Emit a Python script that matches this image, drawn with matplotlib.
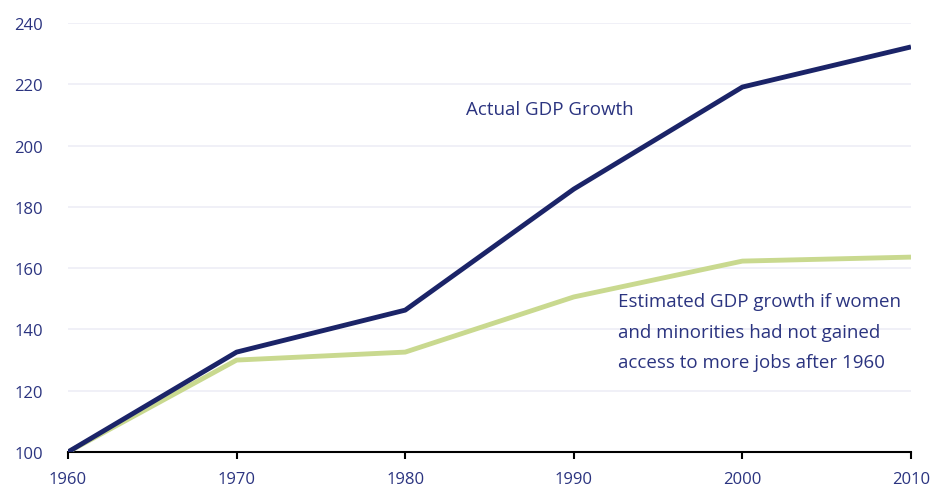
import numpy as np
import matplotlib.pyplot as plt

years = [1960, 1970, 1980, 1990, 2000, 2010]
actual_gdp = [100, 132.6, 146.3, 185.8, 219.1, 232.2]
estimated_gdp = [100, 130.0, 132.6, 150.6, 162.3, 163.6]
yticks = [100, 120, 140, 160, 180, 200, 220, 240]

text_color = '#2b3480'
navy = '#1b2468'
green = '#c9d98f'

plt.rcParams['font.family'] = ['Open Sans', 'DejaVu Sans']

fig = plt.figure(figsize=(9.49, 4.89), dpi=100)
ax = fig.add_axes([68/949, 1 - 453/489, 843/949, 429/489])

ax.plot(years, estimated_gdp, color=green, lw=3.5, solid_capstyle='butt', zorder=3)
ax.plot(years, actual_gdp, color=navy, lw=3.5, solid_capstyle='butt', zorder=4)

ax.set_xlim(1960, 2010)
ax.set_ylim(100, 240)
ax.set_xticks(years)
ax.set_yticks(yticks)
ax.grid(axis='y', color='#eeeef6', lw=1.2, zorder=0)
ax.set_axisbelow(True)

for s in ['top', 'right', 'left']:
    ax.spines[s].set_visible(False)
ax.spines['bottom'].set_color('black')
ax.spines['bottom'].set_linewidth(1.5)

ax.tick_params(axis='x', direction='out', length=5, width=1.5, color='black',
               labelcolor=text_color, labelsize=12, pad=9)
ax.tick_params(axis='y', length=0, labelcolor=text_color, labelsize=12, pad=18)

ax.text(1983.6, 212.0, 'Actual GDP Growth', color=text_color, fontsize=13.5,
        ha='left', va='center')
ax.text(1992.6, 139.3,
        'Estimated GDP growth if women\nand minorities had not gained\naccess to more jobs after 1960',
        color=text_color, fontsize=13.5, ha='left', va='center', linespacing=1.9)

fig.savefig('out.png', dpi=100)
